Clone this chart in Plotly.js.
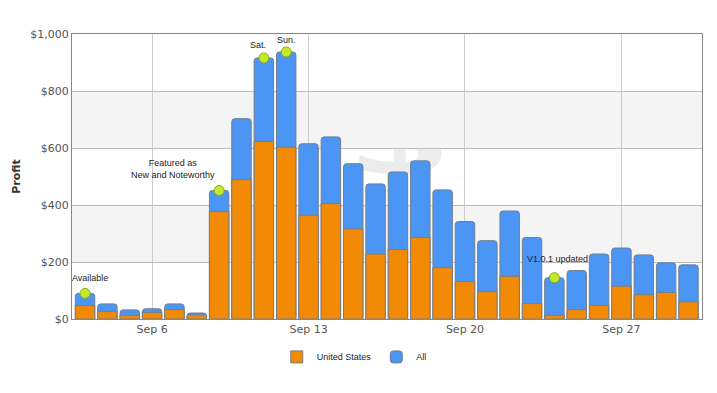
<!DOCTYPE html>
<html>
<head>
<meta charset="utf-8">
<script src="https://cdn.plot.ly/plotly-3.0.1.min.js"></script>
<style>html,body{margin:0;padding:0;background:#fff;}#chart{width:717px;height:393px;}</style>
</head>
<body>
<div id="chart"></div>
<script>
// Data
var dates = ['2010-09-03','2010-09-04','2010-09-05','2010-09-06','2010-09-07','2010-09-08','2010-09-09',
  '2010-09-10','2010-09-11','2010-09-12','2010-09-13','2010-09-14','2010-09-15','2010-09-16',
  '2010-09-17','2010-09-18','2010-09-19','2010-09-20','2010-09-21','2010-09-22','2010-09-23',
  '2010-09-24','2010-09-25','2010-09-26','2010-09-27','2010-09-28','2010-09-29','2010-09-30'];
var unitedStates = [47,26,13,23,33,14,377,489,623,603,364,405,316,228,244,286,180,131,96,150,54,13,33,48,115,85,93,60];
var allSales = [90,53,32,36,53,21,451,703,916,937,615,639,545,474,516,555,453,342,275,379,286,145,170,228,249,225,197,190];
var eventDates = ['2010-09-03','2010-09-09','2010-09-11','2010-09-12','2010-09-24'];
var eventLabels = ['Available','Featured as<br>New and Noteworthy','Sat.','Sun.','V1.0.1 updated'];
var eventShiftX = [5,-46,-6,0,3];
var eventShiftY = [8,8,6,5,12];
var seriesNames = ['United States','All'];
var tickDates = ['2010-09-06','2010-09-13','2010-09-20','2010-09-27'];
var tickLabels = ['Sep 6','Sep 13','Sep 20','Sep 27'];

var eventValues = eventDates.map(function(d){ return allSales[dates.indexOf(d)]; });

var narrow = '"Liberation Sans Narrow", "Arial Narrow", "Liberation Sans", sans-serif';

var traces = [
  {type:'bar', x:dates, y:allSales, name:seriesNames[1], legendrank:2,
   marker:{color:'#4b96f5', line:{color:'#6f7f90', width:1}, cornerradius:3}, hoverinfo:'y'},
  {type:'bar', x:dates, y:unitedStates, name:seriesNames[0], legendrank:1,
   marker:{color:'#f28a05', line:{color:'#7d7d7d', width:1}}, hoverinfo:'y'},
  {type:'scatter', mode:'markers', x:eventDates, y:eventValues, showlegend:false, hoverinfo:'skip',
   marker:{size:10, color:'#c4e82a', line:{color:'#8fae1c', width:1}}, cliponaxis:false}
];

var bands = [];
[[200,400],[600,800]].forEach(function(b){
  bands.push({type:'rect', xref:'paper', yref:'y', x0:0, x1:1, y0:b[0], y1:b[1],
    fillcolor:'#f4f4f4', line:{width:0}, layer:'below'});
});

var annotations = eventLabels.map(function(t,i){
  return {x:eventDates[i], y:eventValues[i], text:t, showarrow:false, xanchor:'center', yanchor:'bottom',
    xshift:eventShiftX[i], yshift:eventShiftY[i], font:{family:narrow, size:9, color:'#222'}};
});

var svg = '<svg xmlns="http://www.w3.org/2000/svg" width="200" height="200"><text x="100" y="170" font-family="DejaVu Sans" font-weight="bold" font-size="190" text-anchor="middle" fill="#ececec">$</text></svg>';

var layout = {
  width:717, height:393,
  margin:{l:72, r:15, t:34, b:74},
  paper_bgcolor:'#ffffff', plot_bgcolor:'#ffffff',
  barmode:'overlay', bargap:0.13,
  showlegend:true,
  legend:{orientation:'h', x:0.325, xanchor:'left', y:-0.133, yanchor:'middle',
    font:{family:narrow, size:9, color:'#222'}, traceorder:'normal', itemwidth:30},
  xaxis:{type:'date', range:['2010-09-02 10:00','2010-09-30 14:30'],
    tickvals:tickDates, ticktext:tickLabels, ticks:'', showgrid:true, gridcolor:'#cccccc',
    showline:true, linecolor:'#888888', linewidth:1, mirror:true,
    tickfont:{family:'"DejaVu Sans", Verdana, sans-serif', size:11, color:'#555'}, zeroline:false},
  yaxis:{range:[0,1000], tickvals:[0,200,400,600,800,1000], ticktext:['$0','$200','$400','$600','$800','$1,000'],
    showgrid:true, gridcolor:'#bbbbbb', showline:true, linecolor:'#888888', linewidth:1, mirror:true,
    ticks:'', zeroline:false,
    tickfont:{family:'"DejaVu Sans", Verdana, sans-serif', size:11, color:'#555'},
    title:{text:'Profit', font:{family:'"DejaVu Sans", Verdana, sans-serif', size:11, color:'#333', weight:'bold'}, standoff:7}},
  shapes:bands,
  annotations:annotations,
  images:[{source:'data:image/svg+xml;charset=utf-8,'+encodeURIComponent(svg), xref:'paper', yref:'paper',
    x:0.52, y:0.85, sizex:0.25, sizey:0.4, xanchor:'center', yanchor:'top', layer:'below', opacity:1}]
};

Plotly.newPlot('chart', traces, layout, {displayModeBar:false, staticPlot:true});
</script>
</body>
</html>
